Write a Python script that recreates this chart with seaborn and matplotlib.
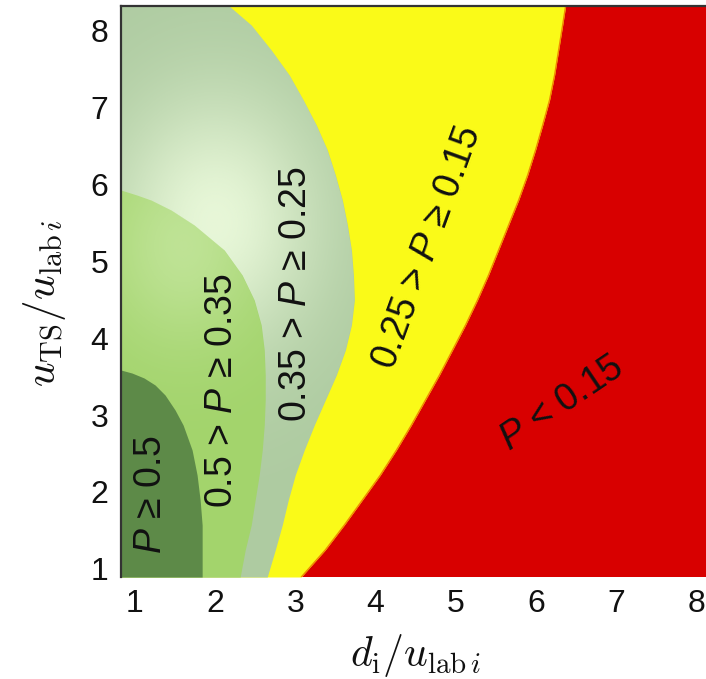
import numpy as np
import matplotlib
matplotlib.use("Agg")
import matplotlib.pyplot as plt
import seaborn as sns

# ---------------- data ----------------
x_ticks = [1, 2, 3, 4, 5, 6, 7, 8]
y_ticks = [1, 2, 3, 4, 5, 6, 7, 8]

# boundary P = 0.15 (yellow | red)
b15_y = [8.312, 8.065, 7.740, 7.416, 7.091, 6.766, 6.442, 6.117, 5.792, 5.468, 5.143, 4.818,
         4.494, 4.169, 3.844, 3.519, 3.195, 2.870, 2.545, 2.221, 1.896, 1.571, 1.247, 0.896]
b15_x = [6.366, 6.329, 6.279, 6.229, 6.166, 6.081, 5.992, 5.894, 5.782, 5.657, 5.532, 5.407,
         5.270, 5.121, 4.959, 4.796, 4.622, 4.447, 4.261, 4.061, 3.837, 3.612, 3.375, 3.076]

# boundary P = 0.25 (pale green | yellow)
b25_y = [8.312, 8.065, 7.740, 7.416, 7.091, 6.766, 6.442, 6.117, 5.792, 5.468, 5.143, 4.818,
         4.494, 4.169, 3.844, 3.519, 3.195, 2.870, 2.545, 2.221, 1.896, 1.571, 1.247, 0.896]
b25_x = [2.178, 2.453, 2.702, 2.926, 3.101, 3.263, 3.400, 3.500, 3.587, 3.650, 3.700, 3.725,
         3.737, 3.700, 3.625, 3.512, 3.375, 3.238, 3.113, 3.001, 2.914, 2.839, 2.752, 2.652]

# boundary P = 0.35 (light green | pale green)
b35_y = [5.922, 5.857, 5.792, 5.662, 5.468, 5.143, 4.818, 4.494, 4.169, 3.844, 3.519, 3.195,
         2.870, 2.545, 2.221, 1.896, 1.571, 1.247, 0.896]
b35_x = [0.832, 1.031, 1.206, 1.455, 1.742, 2.116, 2.340, 2.490, 2.577, 2.615, 2.627, 2.627,
         2.615, 2.590, 2.552, 2.502, 2.453, 2.378, 2.315]

# boundary P = 0.5 (dark green | light green)
b50_y = [3.584, 3.545, 3.481, 3.390, 3.260, 3.065, 2.870, 2.545, 2.221, 1.896, 1.571, 1.247, 0.896]
b50_x = [0.832, 0.969, 1.118, 1.256, 1.380, 1.505, 1.605, 1.717, 1.779, 1.817, 1.842, 1.842, 1.842]

region_labels = ["$P$ ≥ 0.5", "0.5 > $P$ ≥ 0.35", "0.35 > $P$ ≥ 0.25",
                 "0.25 > $P$ ≥ 0.15", "$P$ < 0.15"]
label_x = [1.206, 2.091, 3.014, 4.647, 6.318]
label_y = [1.961, 3.312, 4.571, 5.169, 3.143]
label_rot = [90, 90, 90, 70, 34]

# ---------------- style ----------------
sns.set_theme(style="white")
plt.rcParams["font.family"] = ["Liberation Sans", "DejaVu Sans"]
plt.rcParams["mathtext.fontset"] = "custom"
plt.rcParams["mathtext.rm"] = "Liberation Sans"
plt.rcParams["mathtext.it"] = "Liberation Sans:italic"
plt.rcParams["mathtext.bf"] = "Liberation Sans:bold"

C_RED = "#d80000"
C_YEL = "#fafa18"
C_PALE = "#aecba1"
C_LG = "#a3d46c"
C_DG = "#5d8a48"
C_GLOW = "#f2ffe2"

XMIN, XMAX = 0.832, 8.113
YMIN, YMAX = 0.896, 8.312

fig = plt.figure(figsize=(7.06, 6.79), dpi=100)
ax = fig.add_axes([121 / 706, 1 - 577 / 679, 1 - 121 / 706, (577 - 6) / 679])
ax.set_facecolor(C_RED)


def glow(clip, alpha_max, cx, cy, sx, sy):
    """soft light shading (style only) clipped to a filled region"""
    gx = np.linspace(XMIN, XMAX, 300)
    gy = np.linspace(YMIN, YMAX, 300)
    GX, GY = np.meshgrid(gx, gy)
    a = alpha_max * np.exp(-(((GX - cx) / sx) ** 2 + ((GY - cy) / sy) ** 2))
    rgba = np.zeros(GX.shape + (4,))
    rgba[..., :3] = matplotlib.colors.to_rgb(C_GLOW)
    rgba[..., 3] = a
    im = ax.imshow(rgba, extent=(XMIN, XMAX, YMIN, YMAX), origin="lower",
                   aspect="auto", interpolation="bilinear", zorder=clip.get_zorder())
    im.set_clip_path(clip.get_paths()[0], ax.transData)


ax.fill_betweenx(b15_y, XMIN, b15_x, color=C_YEL, lw=0)
pale = ax.fill_betweenx(b25_y, XMIN, b25_x, color=C_PALE, lw=0)
glow(pale, 0.85, 2.0, 5.5, 1.3, 1.7)
lg = ax.fill_betweenx(b35_y, XMIN, b35_x, color=C_LG, lw=0)
glow(lg, 0.35, 1.6, 5.2, 1.0, 1.3)
ax.fill_betweenx(b50_y, XMIN, b50_x, color=C_DG, lw=0)
sns.lineplot(x=b15_x, y=b15_y, sort=False, estimator=None, color="#f08a00", lw=1.0, ax=ax)

ax.set_xlim(XMIN, XMAX)
ax.set_ylim(YMIN, YMAX)
ax.set_xticks(x_ticks)
ax.set_yticks(y_ticks)
ax.tick_params(axis="both", length=0, labelsize=23, colors="#111111")
ax.tick_params(axis="x", pad=9)
ax.tick_params(axis="y", pad=9)

for s in ["bottom", "right"]:
    ax.spines[s].set_visible(False)
for s in ["left", "top"]:
    ax.spines[s].set_visible(True)
    ax.spines[s].set_color("#333333")
    ax.spines[s].set_linewidth(1.6)

ax.set_xlabel(r"$d_{\mathrm{i}}/u_{\mathrm{lab}\,i}$", fontsize=30,
              math_fontfamily="cm", color="#111111")
ax.set_ylabel(r"$u_{\mathrm{TS}}/u_{\mathrm{lab}\,i}$", fontsize=31,
              math_fontfamily="cm", color="#111111")
ax.xaxis.set_label_coords(0.503, -0.097)
ax.yaxis.set_label_coords(-0.09, 0.48)

for txt, tx, ty, rot in zip(region_labels, label_x, label_y, label_rot):
    ax.text(tx, ty, txt, rotation=rot, rotation_mode="anchor", ha="center", va="center",
            fontsize=27, color="#111111")

fig.savefig("out.png", dpi=100)
